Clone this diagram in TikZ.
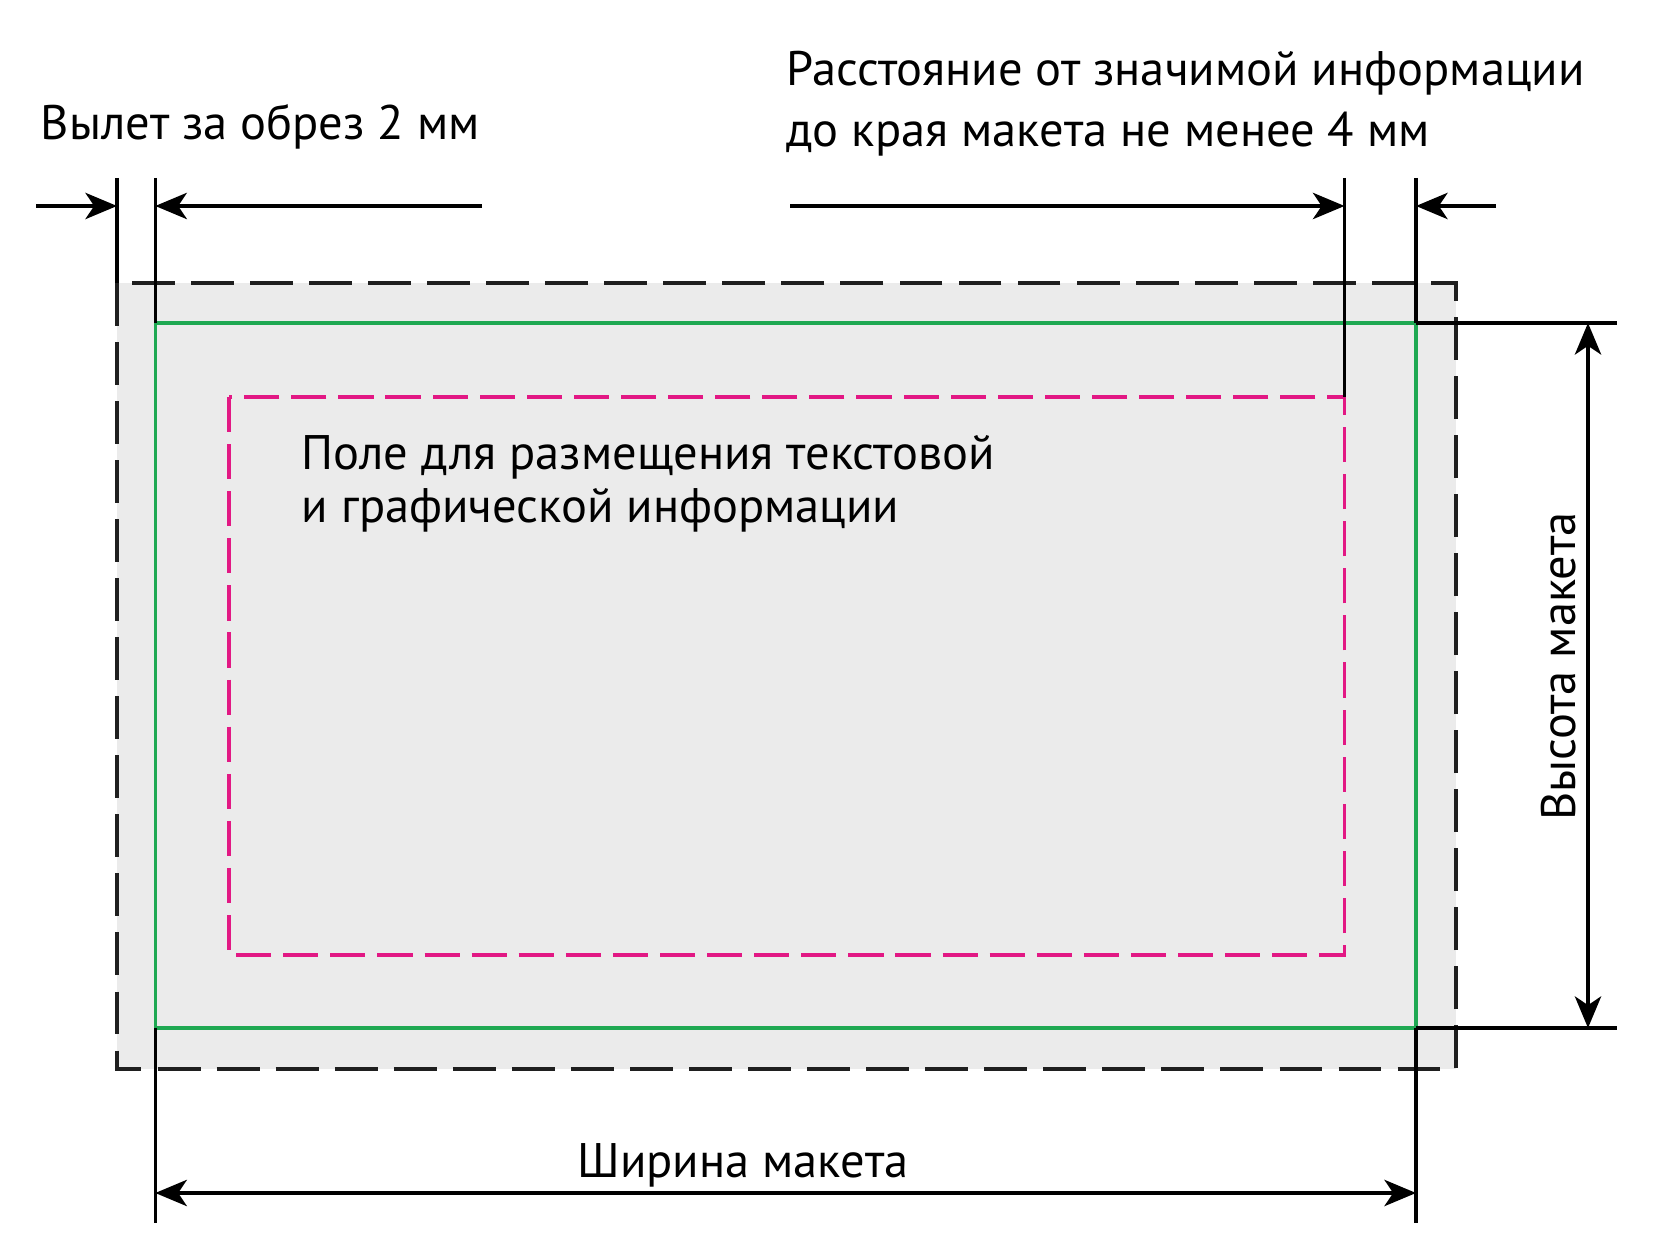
\documentclass[tikz,border=0pt]{standalone}
\usepackage{fontspec}
\setmainfont{PT Sans}
\usetikzlibrary{arrows.meta}
\definecolor{bleedgray}{RGB}{235,235,235}
\definecolor{trimgreen}{RGB}{30,168,82}
\definecolor{safepink}{RGB}{226,24,132}

\begin{document}
\begin{tikzpicture}[
    dimline/.style={black, line width=0.9pt},
    dimarrow/.style={black, line width=0.9pt, -{Stealth[length=9pt,width=7.5pt,inset=2.5pt]}},
    dimboth/.style={black, line width=0.9pt, {Stealth[length=9pt,width=7.5pt,inset=2.5pt]}-{Stealth[length=9pt,width=7.5pt,inset=2.5pt]}},
    caption/.style={anchor=base west, inner sep=0pt, font=\fontsize{13.8}{17.6}\selectfont}]
    \useasboundingbox (0,0) rectangle (16.8,-12.57);

    \coordinate (bleedNW) at (1.17,-2.83);     % bleed rectangle
    \coordinate (bleedSE) at (14.56,-10.69);
    \coordinate (trimNW) at (1.553,-3.23);     % trim rectangle
    \coordinate (trimNE) at (14.16,-3.23);
    \coordinate (trimSW) at (1.553,-10.28);
    \coordinate (trimSE) at (14.16,-10.28);
    \coordinate (safeNW) at (2.29,-3.97);      % safe area
    \coordinate (safeNE) at (13.445,-3.97);
    \coordinate (safeSE) at (13.445,-9.55);

    \fill [bleedgray] (bleedNW) rectangle (bleedSE);
    \draw [trimgreen, line width=0.9pt] (trimNW) rectangle (trimSE);
    \draw [safepink, line width=0.9pt, dash pattern=on 10pt off 3.4pt] (safeNW) rectangle (safeSE);
    \draw [black!88, line width=1.2pt, dash pattern=on 12.2pt off 4.6pt] (bleedNW) rectangle (bleedSE);

    % bleed: 2 mm
    \coordinate (bleedtop) at (1.17,-1.78);
    \coordinate (trimtop) at (1.553,-1.78);
    \coordinate (bleedtail) at (0.364,-2.06);
    \coordinate (trimtail) at (4.82,-2.06);
    \draw [dimline] (bleedtop) -- (bleedNW);
    \draw [dimline] (trimtop) -- (trimNW);
    \draw [dimarrow] (bleedtail) -- (bleedtail -| bleedNW);
    \draw [dimarrow] (trimtail) -- (trimtail -| trimNW);
    \node [caption] (bleedlabel) at (0.40,-1.40) {Вылет за обрез 2 мм};

    % safe distance: 4 mm
    \coordinate (safetail) at (7.90,-2.06);
    \coordinate (edgetail) at (14.96,-2.06);
    \draw [dimline] (safeNE |- bleedtop) -- (safeNE);
    \draw [dimline] (trimNE |- bleedtop) -- (trimNE);
    \draw [dimarrow] (safetail) -- (safetail -| safeNE);
    \draw [dimarrow] (edgetail) -- (edgetail -| trimNE);
    \node [caption, align=left] (safelabel) at (7.86,-1.47)   % base = last line
        {Расстояние от значимой информации\\до края макета не менее 4 мм};

    % working field
    \node [caption, align=left, font=\fontsize{13.8}{15.1}\selectfont] (fieldlabel) at (3.01,-5.23)
        {Поле для размещения текстовой\\и графической информации};

    % height
    \coordinate (heightend) at (16.17,-3.23);
    \coordinate (heightfoot) at (16.17,-10.28);
    \draw [dimline] (trimNE) -- (heightend);
    \draw [dimline] (trimSE) -- (heightfoot);
    \draw [dimboth] (15.88,-3.23) -- (15.88,-10.28);
    \node [caption, anchor=base, rotate=90] (heightlabel) at (15.75,-6.665) {Высота макета};

    % width
    \coordinate (widthleft) at (1.553,-12.23);
    \coordinate (widthright) at (14.16,-12.23);
    \draw [dimline] (trimSW) -- (widthleft);
    \draw [dimline] (trimSE) -- (widthright);
    \draw [dimboth] (1.553,-11.93) -- (14.16,-11.93);
    \node [caption] (widthlabel) at (5.77,-11.78) {Ширина макета};
\end{tikzpicture}
\end{document}
